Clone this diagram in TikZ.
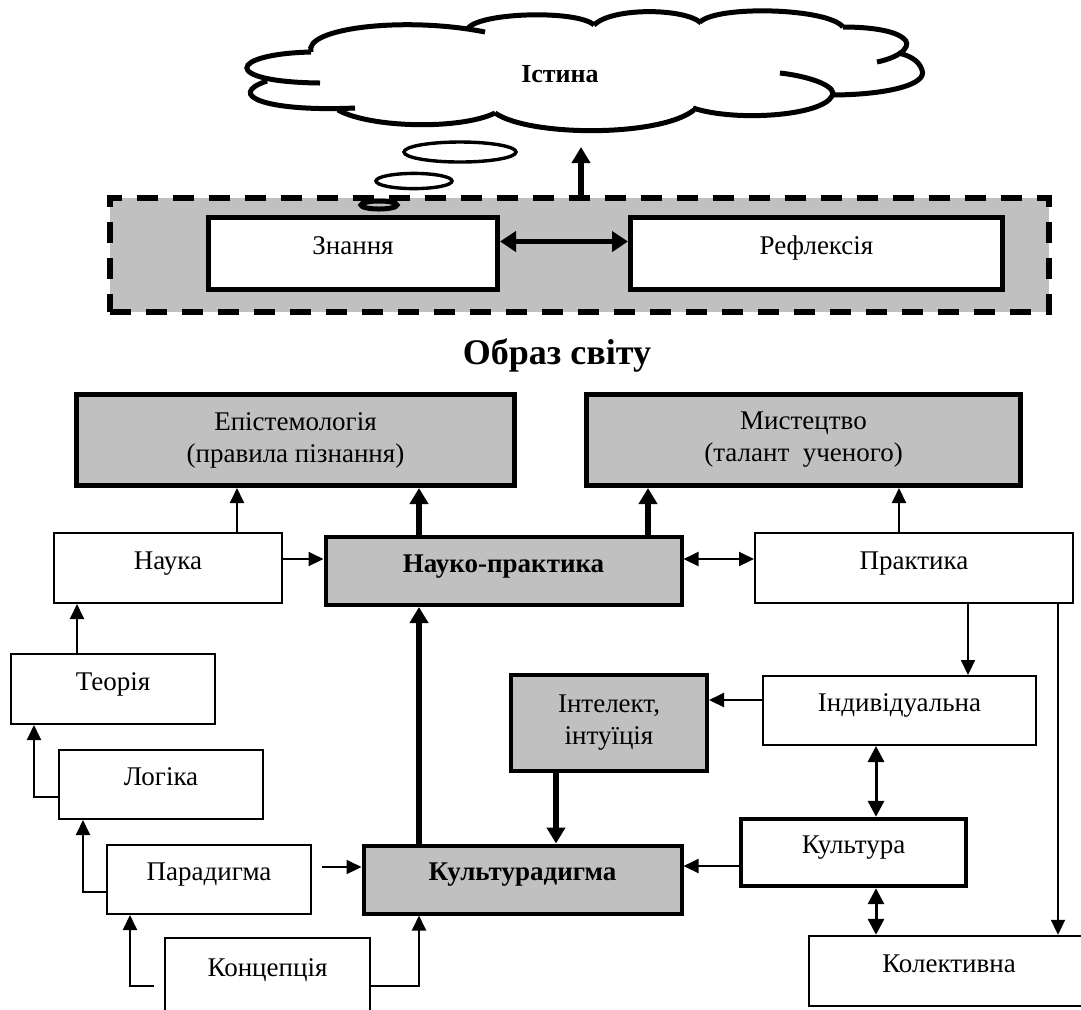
\documentclass[tikz,border=0pt]{standalone}
\usepackage{fontspec}
\setmainfont{Liberation Serif}
\usetikzlibrary{arrows.meta}
\definecolor{greyfill}{RGB}{192,192,192}

\begin{document}
\begin{tikzpicture}[x=0.5pt, y=-0.5pt, >={Triangle[length=7.5pt, width=7pt]},
    box/.style={draw, line width=1pt, fill=white, inner sep=0pt, text height=8pt, text depth=7pt,
        font=\fontsize{13.5}{16}\selectfont},
    twoline/.style={draw, fill=greyfill, inner sep=0pt, align=center, font=\fontsize{13.5}{16}\selectfont},
    arr/.style={->, line width=1pt},
    bigarr/.style={-{Triangle[length=8pt, width=9pt]}, line width=2.8pt},
    dblarr/.style={{Triangle[length=8pt, width=8pt]}-{Triangle[length=8pt, width=8pt]}, line width=1.5pt}]
    \useasboundingbox (0,0) rectangle (1081,1009);

    % Cloud
    \draw[line width=2.5pt]
        (311,52) .. controls (228,54) and (220,82) .. (320,83)
        (267,81) .. controls (225,95) and (265,112) .. (355,108)
        (338,110) .. controls (370,128) and (460,130) .. (495,113)
        (495,113) .. controls (530,137) and (660,137) .. (694,110)
        (780,73) .. controls (815,77) and (838,88) .. (832,96) .. controls (822,116) and (735,122) .. (693,108)
        (830,95) .. controls (885,95) and (928,85) .. (922,70) .. controls (919,60) and (908,55) .. (898,53)
        (877,62) .. controls (905,56) and (912,44) .. (903,38) .. controls (893,30) and (868,27) .. (843,27)
        (843,27) .. controls (828,8) and (718,5) .. (700,22)
        (701,23) .. controls (685,8) and (612,7) .. (594,25)
        (594,25) .. controls (578,10) and (482,12) .. (468,28)
        (311,52) .. controls (303,28) and (405,16) .. (485,32);
    \node (ist) at (560,74) {\fontsize{13}{15}\selectfont\bfseries Істина};
    \draw[line width=1.7pt] (460,152) ellipse [x radius=28pt, y radius=5pt];
    \draw[line width=1.7pt] (414,181) ellipse [x radius=19pt, y radius=3.8pt];

    % Grey band
    \node[draw, fill=greyfill, line width=3pt, dash pattern=on 10.5pt off 7.5pt,
        minimum width=469.5pt, minimum height=57pt] (band) at (579.5,255) {};
    \draw[line width=2.5pt] (379,205) ellipse [x radius=9pt, y radius=2pt];
    \node[box, line width=2.5pt, minimum width=144.5pt, minimum height=36pt] (zn) at (353,253.5) {Знання};
    \node[box, line width=2.5pt, minimum width=186pt, minimum height=36pt] (refl) at (816.5,253.5) {Рефлексія};
    \coordinate (top) at (581,147);

    % Title
    \node (title) at (557,355) {\fontsize{18}{22}\selectfont\bfseries Образ світу};

    % Upper row
    \node[twoline, line width=2.5pt, minimum width=219pt, minimum height=45.5pt] (epist) at (295.5,440)
        {Епістемологія\\(правила пізнання)};
    \node[twoline, line width=2.5pt, minimum width=217pt, minimum height=45.5pt] (myst) at (803.5,440)
        {Мистецтво\\(талант\ \ ученого)};
    \node[box, minimum width=114pt, minimum height=35pt] (nauka) at (168,568) {Наука};
    \node[box, fill=greyfill, line width=2pt, minimum width=178pt, minimum height=34pt] (np) at (503.5,571)
        {\bfseries Науко-практика};
    \node[box, minimum width=159pt, minimum height=35pt] (prakt) at (914,568) {Практика};

    % Left ladder
    \node[box, minimum width=102pt, minimum height=35pt] (teor) at (113,689) {Теорія};
    \node[box, minimum width=102pt, minimum height=34.5pt] (log) at (161,784.5) {Логіка};
    \node[box, minimum width=102pt, minimum height=34.5pt] (para) at (209,879.5) {Парадигма};
    \node[box, minimum width=102.5pt, minimum height=37pt] (konc) at (267.5,975) {Концепція};

    % Middle and right
    \node[box, fill=greyfill, line width=2pt, minimum width=159pt, minimum height=34pt] (kd) at (522.5,879.5)
        {\bfseries Культурадигма};
    \node[twoline, line width=2pt, minimum width=98pt, minimum height=48pt] (intel) at (609,723)
        {Інтелект,\\інтуїція};
    \node[box, minimum width=136.5pt, minimum height=34.5pt] (indiv) at (899.5,710.5) {Індивідуальна};
    \node[box, line width=2.2pt, minimum width=112.5pt, minimum height=33.5pt] (kult) at (853.5,852.5) {Культура};
    \node[box, line width=1.2pt, minimum width=140pt, minimum height=35pt] (kol) at (949,971) {Колективна};

    % Connectors
    \draw[{Triangle[length=8pt, width=10pt]}-{Triangle[length=8pt, width=10pt]}, line width=2.5pt]
        ([yshift=6pt]zn.east) -- ([yshift=6pt]refl.west);
    \draw[bigarr] (band.north -| top) -- (top);

    \coordinate (n1) at ([xshift=34.5pt]nauka.north);
    \draw[arr] (n1) -- (n1 |- epist.south);
    \coordinate (n2) at ([xshift=-42.25pt]np.north);
    \draw[bigarr] (n2) -- (n2 |- epist.south);
    \coordinate (n3) at ([xshift=72.25pt]np.north);
    \draw[bigarr] (n3) -- (n3 |- myst.south);
    \coordinate (n4) at ([xshift=-7.5pt]prakt.north);
    \draw[arr] (n4) -- (n4 |- myst.south);

    \coordinate (h1) at ([yshift=4.5pt]nauka.east);
    \draw[arr] (h1) -- (h1 -| np.west);
    \coordinate (h2) at ([yshift=4.5pt]prakt.west);
    \draw[arr, <->] (h2 -| np.east) -- (h2);

    \coordinate (t1) at ([xshift=-18pt]teor.north);
    \draw[arr] (t1) -- (t1 |- nauka.south);
    \draw[arr] ([yshift=-6.25pt]log.west) -| ([xshift=-39.5pt]teor.south);
    \draw[arr] ([yshift=-6.25pt]para.west) -| ([xshift=-39pt]log.south);
    \coordinate (k1) at ([shift={(-5pt,-5.5pt)}]konc.west);
    \draw[arr] (k1) -| ([xshift=-39.5pt]para.south);
    \draw[arr] ([yshift=-5.5pt]konc.east) -| ([xshift=-51.75pt]kd.south);
    \coordinate (p1) at ([shift={(5pt,6.25pt)}]para.east);
    \draw[arr] (p1) -- (p1 -| kd.west);

    \coordinate (c1) at ([xshift=-51.75pt]kd.north);
    \draw[bigarr] (c1) -- (c1 |- np.south);
    \coordinate (i1) at ([xshift=-26.5pt]intel.south);
    \draw[bigarr] (i1) -- (i1 |- kd.north);
    \coordinate (i2) at ([yshift=5.25pt]indiv.west);
    \draw[arr] (i2) -- (i2 -| intel.east);
    \coordinate (k2) at ([yshift=-6.75pt]kult.west);
    \draw[arr] (k2) -- (k2 -| kd.east);

    \coordinate (r1) at ([xshift=27pt]prakt.south);
    \draw[arr] (r1) -- (r1 |- indiv.north);
    \coordinate (r2) at ([xshift=72pt]prakt.south);
    \draw[arr] (r2) -- (r2 |- kol.north);
    \coordinate (d1) at ([xshift=-11.75pt]indiv.south);
    \draw[dblarr] (d1) -- (d1 |- kult.north);
    \coordinate (d2) at (d1 |- kult.south);
    \draw[dblarr] (d2) -- (d2 |- kol.north);

\end{tikzpicture}
\end{document}
